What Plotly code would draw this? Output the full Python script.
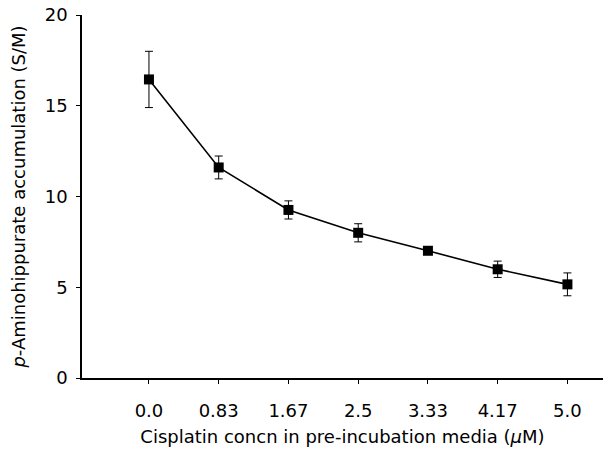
import plotly.graph_objects as go

categories = ["0.0", "0.83", "1.67", "2.5", "3.33", "4.17", "5.0"]
pah_accumulation = [16.45, 11.6, 9.26, 8.0, 7.01, 5.99, 5.16]
sem = [1.55, 0.63, 0.5, 0.5, 0.2, 0.45, 0.63]
y_ticks = [0, 5, 10, 15, 20]

font_family = "DejaVu Sans"

fig = go.Figure()
fig.add_trace(go.Scatter(
    x=list(range(len(categories))),
    y=pah_accumulation,
    mode="lines+markers",
    line=dict(color="black", width=1.6),
    marker=dict(symbol="square", size=10, color="black"),
    error_y=dict(type="data", array=sem, visible=True, color="black",
                 thickness=1, width=4),
    showlegend=False,
))

fig.update_layout(
    width=609, height=450,
    margin=dict(l=82, r=6, t=15, b=72),
    paper_bgcolor="white", plot_bgcolor="white",
    font=dict(family=font_family, size=18, color="black"),
    xaxis=dict(
        range=[-0.96, 6.51],
        tickmode="array",
        tickvals=list(range(len(categories))),
        ticktext=categories,
        showline=True, linecolor="black", linewidth=1.5,
        ticks="outside", ticklen=4, tickcolor="black",
        showgrid=False, zeroline=False,
        automargin=False,
        ticklabelstandoff=12,
        title=dict(text="Cisplatin concn in pre-incubation media (<i>μ</i>M)",
                   font=dict(size=18), standoff=10),
        tickfont=dict(size=18),
    ),
    yaxis=dict(
        range=[0, 20],
        tickmode="array",
        tickvals=y_ticks,
        showline=True, linecolor="black", linewidth=1.5,
        ticks="outside", ticklen=4, tickcolor="black",
        showgrid=False, zeroline=False,
        automargin=False,
        ticklabelstandoff=5,
        ticklabeloverflow="allow",
        title=dict(text="<i>p</i>-Aminohippurate accumulation (S/M)",
                   font=dict(size=18), standoff=14),
        tickfont=dict(size=18),
    ),
)

fig.write_html("out.html",
               config={"displayModeBar": False},
               post_script="document.body.style.margin='0px';")
